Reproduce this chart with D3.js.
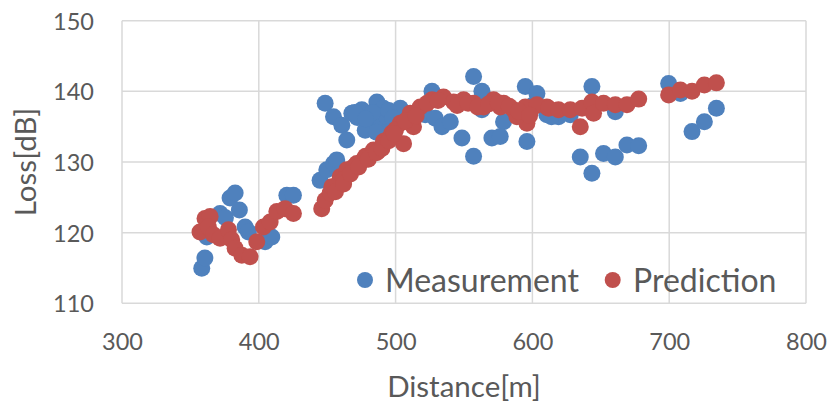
<!DOCTYPE html>
<html>
<head>
<meta charset="utf-8">
<script src="https://cdn.jsdelivr.net/npm/d3@7"></script>
<style>
  html, body { margin: 0; padding: 0; background: #fff; }
  svg text { font-family: Lato, "Open Sans", sans-serif; fill: #595959; }
</style>
</head>
<body>
<svg id="chart" width="831" height="405"></svg>
<script>
// ---- data ----
const measDist = [358.3, 360.6, 362, 371.7, 375.6, 379, 382.7, 385.8, 390, 392.4, 404.6, 409.5, 420.5, 425.3,
  444.8, 449.7, 454.6, 448.5, 454.6, 460.7, 464.3, 468, 475.3, 480.2, 486.3, 491.1, 477.8, 489.9, 493.6, 457,
  503.4, 526.6, 521.7, 529, 533.9, 540, 563.1, 557, 548.5, 557, 570.4, 563.1, 578.9, 594.8, 603.3, 596, 610.6,
  619.1, 627.7, 643.5, 635, 643.5, 652, 660.6, 669.1, 677.7, 660.6, 699.6, 708.2, 716.7, 725.7, 734.5, 576.5, 614,
  472, 483, 486, 495, 498, 470, 478, 600, 622];
const measLoss = [114.95, 116.4, 119.4, 122.7, 122.1, 124.9, 125.6, 123.2, 120.8, 120.1, 118.7, 119.4, 125.3, 125.3,
  127.4, 128.9, 129.8, 138.3, 136.4, 135.2, 133.1, 136.9, 137.4, 135.7, 138.5, 137.6, 134.5, 135.2, 136.4, 130.3,
  137.6, 140, 136.7, 136.2, 135, 135.7, 140, 142.1, 133.4, 130.8, 133.4, 137.4, 135.7, 140.7, 139.7, 132.9, 136.7,
  136.4, 136.7, 140.7, 130.7, 128.4, 131.2, 130.7, 132.4, 132.3, 137.1, 141.1, 139.7, 134.3, 135.7, 137.6, 133.6, 136.4,
  136.3, 137, 134.2, 137.3, 136.2, 137, 136.1, 138, 137];

const predDist = [357, 360.7, 364.4, 363.1, 366.8, 371.7, 377.8, 380.2, 382.7, 387.6, 393.6, 398.5, 403.4, 408.3,
  413.2, 419.2, 425.3, 446, 448.5, 452.2, 457, 459.5, 464.3, 471.6, 453.4, 461.9, 469.2, 476.5, 478, 483.8, 491.1,
  497.3, 503.4, 510.7, 518, 526.6, 535, 542.4, 549.7, 557, 564.3, 571.6, 579, 586.3, 596, 600.9, 610.6, 505.8,
  513.1, 588.7, 576.5, 594.8, 603.3, 611.8, 619.1, 627.7, 635, 636.3, 643.5, 644.7, 652, 660.6, 669.1, 677.7,
  699.6, 708.2, 716.7, 725.7, 734.5, 487, 494, 500,
  456, 462, 467, 473, 480, 486, 490, 495, 499, 507, 515, 523, 531, 545, 553, 560, 568, 575, 583, 590, 598];
const predLoss = [120.1, 122, 122.3, 120.8, 119.7, 119.2, 120.4, 119, 117.8, 116.8, 116.6, 118.7, 120.8, 121.5,
  123, 123.4, 122.7, 123.4, 124.6, 125.6, 126.7, 127.9, 128.9, 129.8, 126.5, 127.5, 129.3, 130.3, 130.8, 131.7, 132.9,
  134.1, 135.5, 136.9, 137.8, 138.8, 139.2, 138.5, 138.8, 138.3, 137.8, 138.8, 138.3, 137.4, 135.5, 137.8, 137.8, 132.6,
  135, 136.4, 137.8, 137.8, 138.1, 137.6, 137.4, 137.4, 135, 137.6, 138.5, 136.9, 138.3, 138.1, 138.1, 138.9,
  139.5, 140.2, 140, 140.9, 141.2, 131.5, 133.2, 134.6,
  125.8, 126.9, 128.3, 129.3, 130.4, 131.3, 131.9, 133, 134, 135.8, 136.5, 138.3, 138.7, 138, 138.3, 137.8, 138.2, 138.4, 137.9, 137.2, 136.6];

const xTicks = [300, 400, 500, 600, 700, 800];
const yTicks = [110, 120, 130, 140, 150];
const seriesNames = ["Measurement", "Prediction"];
const seriesColors = ["#4F81BD", "#C0504D"];
const xTitle = "Distance[m]";
const yTitle = "Loss[dB]";

// ---- layout ----
const svg = d3.select("#chart");
const L = 122, R = 806, T = 20.7, B = 303.3;
const x = d3.scaleLinear().domain([300, 800]).range([L, R]);
const y = d3.scaleLinear().domain([110, 150]).range([B, T]);
const gridColor = "#d9d9d9";

// gridlines
svg.append("g").selectAll("line.h").data(yTicks).join("line")
  .attr("x1", L).attr("x2", R).attr("y1", d => y(d)).attr("y2", d => y(d))
  .attr("stroke", gridColor).attr("stroke-width", 1.5);
svg.append("g").selectAll("line.v").data(xTicks).join("line")
  .attr("y1", T).attr("y2", B).attr("x1", d => x(d)).attr("x2", d => x(d))
  .attr("stroke", gridColor).attr("stroke-width", 1.5);

// axes (labels only)
const xAxis = d3.axisBottom(x).tickValues(xTicks).tickSize(0).tickPadding(0);
const gx = svg.append("g").attr("transform", `translate(0,${B})`).call(xAxis);
gx.select(".domain").remove();
gx.selectAll("text").attr("y", 0).attr("dy", 0).attr("transform", "translate(0,47)")
  .style("font-size", "23.5px").style("fill", "#595959").style("font-family", "Lato, sans-serif");

const yAxis = d3.axisLeft(y).tickValues(yTicks).tickSize(0).tickPadding(0);
const gy = svg.append("g").attr("transform", `translate(94,0)`).call(yAxis);
gy.select(".domain").remove();
gy.selectAll("text").attr("x", 0).attr("dy", "0.36em")
  .style("font-size", "23.5px").style("fill", "#595959").style("font-family", "Lato, sans-serif");

// axis titles
svg.append("text").attr("x", (L + R) / 2).attr("y", 397).attr("text-anchor", "middle")
  .style("font-size", "29.5px").text(xTitle);
svg.append("text").attr("transform", `translate(36,${(T + B) / 2}) rotate(-90)`)
  .attr("text-anchor", "middle").style("font-size", "29.5px").text(yTitle);

// points
const r = 8.5;
const meas = measDist.map((d, i) => ({ d, l: measLoss[i] }));
const pred = predDist.map((d, i) => ({ d, l: predLoss[i] }));
svg.append("g").selectAll("circle").data(meas).join("circle")
  .attr("cx", p => x(p.d)).attr("cy", p => y(p.l)).attr("r", r).attr("fill", seriesColors[0]);
svg.append("g").selectAll("circle").data(pred).join("circle")
  .attr("cx", p => x(p.d)).attr("cy", p => y(p.l)).attr("r", r).attr("fill", seriesColors[1]);

// legend
const legendPos = [[365, 385], [612.7, 633]];
seriesNames.forEach((name, i) => {
  svg.append("circle").attr("cx", legendPos[i][0]).attr("cy", 280).attr("r", 8).attr("fill", seriesColors[i]);
  svg.append("text").attr("x", legendPos[i][1]).attr("y", 291.5).style("font-size", "32px").text(name);
});
</script>
</body>
</html>
